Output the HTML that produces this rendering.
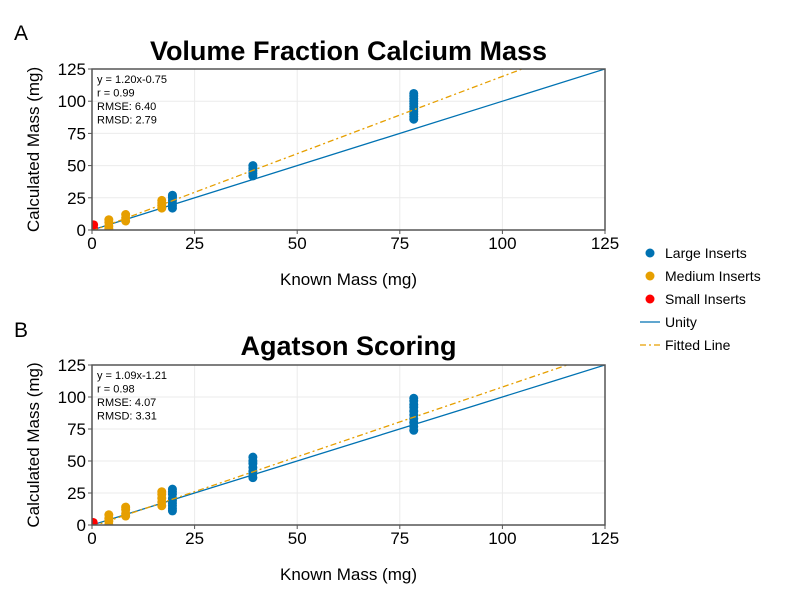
<!DOCTYPE html>
<html><head><meta charset="utf-8"><style>
body{margin:0;background:#fff;width:800px;height:600px;overflow:hidden;font-family:"Liberation Sans",sans-serif}
svg{display:block}
</style></head><body>
<svg id="chart" width="800" height="600" xmlns="http://www.w3.org/2000/svg" font-family="Liberation Sans, sans-serif"></svg>
<script>
// ---- data ----
const xTicks = [0,25,50,75,100,125];
const yTicks = [0,25,50,75,100,125];
const panelTitles = ["Volume Fraction Calcium Mass","Agatson Scoring"];
const panelLetters = ["A","B"];
const fitSlopes = [1.20,1.09];
const fitIntercepts = [-0.75,-1.21];
const statsA = ["y = 1.20x-0.75","r = 0.99","RMSE: 6.40","RMSD: 2.79"];
const statsB = ["y = 1.09x-1.21","r = 0.98","RMSE: 4.07","RMSD: 3.31"];
const largeXA = [19.6,19.6,19.6,19.6,19.6,19.6,19.6,39.2,39.2,39.2,39.2,39.2,78.4,78.4,78.4,78.4,78.4,78.4,78.4,78.4,78.4,78.4,78.4];
const largeYA = [17,19,21,23,25,26,27,42,44,46,48,50,86,88,90,92,94,96,98,100,102,104,106];
const mediumXA = [4.1,4.1,4.1,4.1,8.2,8.2,8.2,17,17,17,17];
const mediumYA = [1,3,6,8,7,9.5,12,17,19,21,23];
const smallXA = [0.4,0.4];
const smallYA = [1,4];
const largeXB = [19.6,19.6,19.6,19.6,19.6,19.6,19.6,19.6,19.6,39.2,39.2,39.2,39.2,39.2,39.2,39.2,78.4,78.4,78.4,78.4,78.4,78.4,78.4,78.4,78.4,78.4];
const largeYB = [11,13,15,17,19,21,24,26,28,37,40,42,45,48,50,53,74,77,80,83,86,89,92,94,97,99];
const mediumXB = [4.1,4.1,4.1,4.1,8.2,8.2,8.2,8.2,17,17,17,17,17];
const mediumYB = [0,3,5,8,7,9,12,14,15,18,21,24,26];
const smallXB = [0.3,0.3];
const smallYB = [0,2];

const NS="http://www.w3.org/2000/svg";
const svg=document.getElementById('chart');
function mk(tag,attrs,parent){const e=document.createElementNS(NS,tag);for(const k in attrs)e.setAttribute(k,attrs[k]);(parent||svg).appendChild(e);return e;}

const panels=[
 {top:69,bottom:230,stats:statsA,lx:largeXA,ly:largeYA,mx:mediumXA,my:mediumYA,sx:smallXA,sy:smallYA,titleY:60,letterY:40},
 {top:365,bottom:525,stats:statsB,lx:largeXB,ly:largeYB,mx:mediumXB,my:mediumYB,sx:smallXB,sy:smallYB,titleY:355,letterY:337}
];
const L=92,R=605;
panels.forEach((p,i)=>{
  const sx=v=>L+(v-0)/(125-0)*(R-L);
  const sy=v=>p.bottom-(v/125)*(p.bottom-p.top);
  const g=mk('g',{});
  
  
  xTicks.forEach(t=>{const l=mk('line',{x1:sx(t),x2:sx(t),y1:p.top,y2:p.bottom,stroke:'#ebebeb','stroke-width':1},g);});
  yTicks.forEach(t=>{const l=mk('line',{x1:L,x2:R,y1:sy(t),y2:sy(t),stroke:'#ebebeb','stroke-width':1},g);});
  const clipId='clip'+i;
  const cp=mk('clipPath',{id:clipId},g);mk('rect',{x:L,y:p.top,width:R-L,height:p.bottom-p.top},cp);
  const plot=mk('g',{'clip-path':'url(#'+clipId+')'},g);
  const u=mk('line',{x1:sx(0),y1:sy(0),x2:sx(125),y2:sy(125),stroke:'#0072b2','stroke-width':1.3},plot);
  
  const pts=(xs,ys,c,name)=>xs.forEach((x,j)=>{const c1=mk('circle',{cx:sx(x),cy:sy(ys[j]),r:4.5,fill:c},plot);});
  pts(p.lx,p.ly,'#0072b2','large-insert-point');
  pts(p.mx,p.my,'#e69f00','medium-insert-point');
  pts(p.sx,p.sy,'#ff0000','small-insert-point');
  const f=mk('line',{x1:sx(0),y1:sy(fitIntercepts[i]),x2:sx(125),y2:sy(fitSlopes[i]*125+fitIntercepts[i]),stroke:'#e69f00','stroke-width':1.3,'stroke-dasharray':'6,3,2,3'},plot);
  
  const fr=mk('rect',{x:L,y:p.top,width:R-L,height:p.bottom-p.top,fill:'none',stroke:'#555','stroke-width':1.5},g);
  
  xTicks.forEach(t=>{mk('line',{x1:sx(t),x2:sx(t),y1:p.bottom,y2:p.bottom+4,stroke:'#555'},g);
    const tx=mk('text',{x:sx(t),y:p.bottom+19,'text-anchor':'middle','font-size':17,fill:'#000'},g);tx.textContent=t;});
  yTicks.forEach(t=>{mk('line',{x1:L-4,x2:L,y1:sy(t),y2:sy(t),stroke:'#555'},g);
    const tx=mk('text',{x:L-6,y:sy(t)+6,'text-anchor':'end','font-size':17,fill:'#000'},g);tx.textContent=t;});
  const xt=mk('text',{x:(L+R)/2,y:p.bottom+55,'text-anchor':'middle','font-size':17},g);xt.textContent='Known Mass (mg)';
  const yt=mk('text',{x:0,y:0,'text-anchor':'middle','font-size':17,transform:`translate(39,${(p.top+p.bottom)/2}) rotate(-90)`},g);yt.textContent='Calculated Mass (mg)';
  const tt=mk('text',{x:(L+R)/2,y:p.titleY,'text-anchor':'middle','font-size':27,'font-weight':'bold'},g);tt.textContent=panelTitles[i];
  const lt=mk('text',{x:14,y:p.letterY,'font-size':21},g);lt.textContent=panelLetters[i];
  p.stats.forEach((s,k)=>{const st=mk('text',{x:97,y:p.top+14+k*13.5,'font-size':11},g);st.textContent=s;});
});
const legLabels=["Large Inserts","Medium Inserts","Small Inserts","Unity","Fitted Line"];
const legColors=["#0072b2","#e69f00","#ff0000","#0072b2","#e69f00"];
const leg=mk('g',{});


legLabels.forEach((lab,k)=>{
  const y=253+k*23;
  if(k<3){mk('circle',{cx:650,cy:y,r:4.5,fill:legColors[k]},leg);}
  else{mk('line',{x1:640,x2:660,y1:y,y2:y,stroke:legColors[k],'stroke-width':1.3,'stroke-dasharray':k==4?'6,3,2,3':'none'},leg);}
  const t=mk('text',{x:665,y:y+5,'font-size':14},leg);t.textContent=lab;
  
  
});
</script>
</body></html>
